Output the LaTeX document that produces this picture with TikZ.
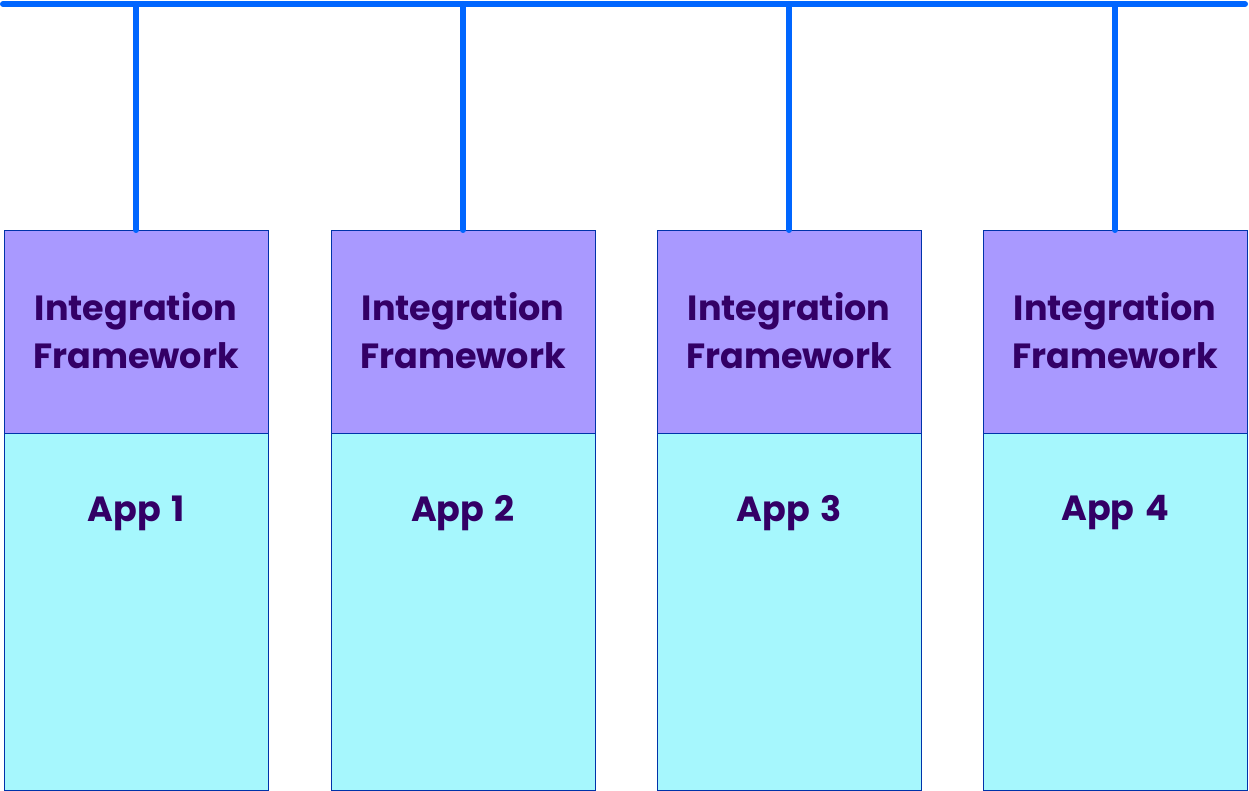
\documentclass[tikz,border=0pt]{standalone}
\usepackage{fontspec}
\setmainfont{Poppins}
\definecolor{busblue}{HTML}{0066FF}
\definecolor{fwfill}{HTML}{A999FF}
\definecolor{appfill}{HTML}{A6F7FD}
\definecolor{edge}{HTML}{0033AA}
\definecolor{txt}{HTML}{330066}
\begin{document}
\begin{tikzpicture}[x=1pt,y=-1pt,
  fwbox/.style={draw=edge,line width=1pt,fill=fwfill,minimum width=264pt,minimum height=203pt,inner sep=0pt,anchor=north},
  appbox/.style={draw=edge,line width=1pt,fill=appfill,minimum width=264pt,minimum height=357pt,inner sep=0pt,anchor=north},
  lbl/.style={text=txt,font=\bfseries\fontsize{35}{48}\selectfont,align=center,inner sep=0pt},
  bus/.style={draw=busblue,line width=6pt,line cap=round}]
\useasboundingbox (0,0) rectangle (1249,791);
\foreach \i/\x in {1/136,2/463,3/789,4/1115}{
  \node[fwbox] (fw\i) at (\x,230) {};
  \node[appbox] (app\i) at (\x,433) {};
  \node[lbl] (fwt\i) at (\x,331) {Integration\\Framework};
  \node[lbl] (appt\i) at (\x,513) {App\hspace{0.3em}\i};
  \coordinate (tap\i) at (\x,4);
}
\coordinate (busL) at (3,4);
\coordinate (busR) at (1245,4);
\draw[bus] (busL) -- (busR);
\foreach \i in {1,...,4}{\draw[bus] (tap\i) -- (fw\i.north);}
\end{tikzpicture}
\end{document}
